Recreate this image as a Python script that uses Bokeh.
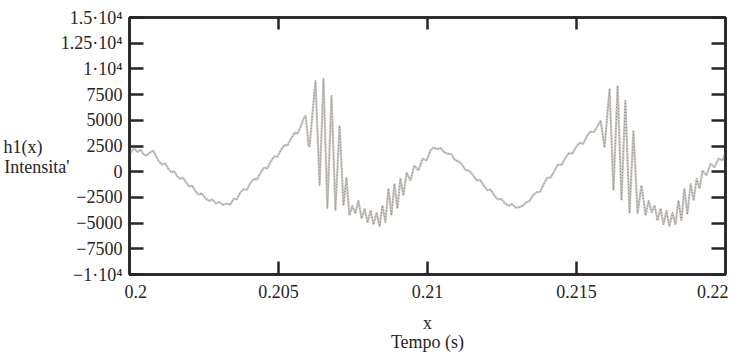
from bokeh.plotting import figure
from bokeh.models import LinearAxis, FixedTicker, Range1d
from bokeh.embed import file_html
from bokeh.resources import INLINE

# ---- data ----
time_s = [
    0.20000, 0.20008, 0.20017, 0.20027, 0.20037, 0.20047, 0.20057, 0.20067, 0.20080, 0.20090,
    0.20100, 0.20110, 0.20120, 0.20130, 0.20140, 0.20150, 0.20160, 0.20170, 0.20180, 0.20190,
    0.20200, 0.20210, 0.20220, 0.20232, 0.20242, 0.20255, 0.20268, 0.20278, 0.20290, 0.20302,
    0.20314, 0.20326, 0.20338, 0.20350, 0.20360, 0.20372, 0.20384, 0.20394, 0.20406, 0.20418,
    0.20428, 0.20440, 0.20452, 0.20462, 0.20474, 0.20486, 0.20496, 0.20508, 0.20520, 0.20530,
    0.20542, 0.20554, 0.20564, 0.20576, 0.20584, 0.20591,
    0.20601, 0.20604, 0.20624, 0.20638, 0.20651, 0.20664, 0.20678, 0.20691, 0.20705, 0.20718,
    0.20728, 0.20738,
    0.20748, 0.20758, 0.20768, 0.20779, 0.20789, 0.20799, 0.20809, 0.20819, 0.20829, 0.20839,
    0.20849, 0.20859, 0.20869, 0.20879, 0.20889, 0.20899, 0.20909, 0.20919, 0.20930, 0.20943,
    0.20956, 0.20970, 0.20983, 0.20997, 0.21010,
    0.21020, 0.21032, 0.21044, 0.21056, 0.21068, 0.21080, 0.21092, 0.21104, 0.21116, 0.21128,
    0.21140, 0.21152, 0.21164, 0.21176, 0.21188, 0.21200, 0.21212, 0.21224, 0.21236, 0.21248,
    0.21260, 0.21272, 0.21284, 0.21296, 0.21308, 0.21320, 0.21330, 0.21342, 0.21354, 0.21366,
    0.21378, 0.21390, 0.21402, 0.21414, 0.21426, 0.21438, 0.21450, 0.21462, 0.21474, 0.21486,
    0.21498, 0.21510, 0.21522, 0.21534, 0.21546, 0.21558, 0.21570, 0.21581,
    0.21594, 0.21611, 0.21624, 0.21638, 0.21651, 0.21664, 0.21678, 0.21691, 0.21705, 0.21718,
    0.21732,
    0.21742, 0.21752, 0.21762, 0.21772, 0.21782, 0.21792, 0.21802, 0.21812, 0.21822, 0.21832,
    0.21842, 0.21852, 0.21862, 0.21872, 0.21883, 0.21893, 0.21903, 0.21913, 0.21923, 0.21936,
    0.21950, 0.21963, 0.21977, 0.21990, 0.22000,
]
intensity = [
    1600, 2050, 2250, 1900, 2150, 1700, 1550, 1850, 2050, 1450,
    950, 700, 800, 300, -50, 50, -450, -700, -600, -1050,
    -1450, -1350, -1850, -2250, -2100, -2600, -2850, -2700, -3100, -2950,
    -3250, -3100, -3200, -2600, -2700, -2000, -1700, -1750, -1100, -700,
    -750, -100, 400, 300, 1000, 1500, 1450, 2100, 2600, 2550,
    3200, 3800, 3700, 4500, 5150, 5470,
    2550, 2400, 8870, -1340, 9070, -3580, 7410, -3780, 4490, -3290,
    -560, -4260,
    -3290, -4070, -2800, -4550, -3580, -4940, -3780, -5140, -3970, -5330,
    -3290, -4940, -1630, -4260, -1150, -3580, -660, -2320, -80, -860,
    600, 120, 1280, 1090, 2060,
    2350, 2200, 2300, 1900, 1750, 1700, 1150, 1000, 700, 150,
    100, -300, -850, -800, -1300, -1800, -1750, -2300, -2700, -2650,
    -3100, -3300, -3150, -3500, -3450, -3300, -3000, -2850, -2300, -2000,
    -1950, -1200, -600, -550, 100, 700, 650, 1300, 1800, 1750,
    2400, 2800, 2700, 3400, 3900, 3850, 4400, 4980,
    2350, 8090, -1830, 8380, -2800, 6930, -4070, 4010, -4070, -1340,
    -4260,
    -2800, -3970, -3290, -4750, -3580, -5140, -3780, -5330, -3970, -5140,
    -2800, -4750, -1630, -4160, -1150, -2800, -660, -1630, 120, -370,
    800, 410, 1280, 1090, 1870,
]

y_ticks = [-10000, -7500, -5000, -2500, 0, 2500, 5000, 7500, 10000, 12500, 15000]
y_tick_labels = ["\u22121\u00b710\u2074", "\u22127500", "\u22125000", "\u22122500", "0",
                 "2500", "5000", "7500", "1\u00b710\u2074", "1.25\u00b710\u2074", "1.5\u00b710\u2074"]
x_ticks = [0.205, 0.21, 0.215]
x_tick_values = [0.2, 0.205, 0.21, 0.215, 0.22]
x_tick_labels = ["0.2", "0.205", "0.21", "0.215", "0.22"]
x_title = ["x", "Tempo (s)"]
y_title = ["h1(x)", "Intensita'"]
y_title_at = [2450, 410]
x_range = (0.2, 0.22)
y_range = (-10000, 15000)

SERIF = "Liberation Serif"
INK = "#262626"
NB = "\u00a0"

p = figure(width=739, height=359, output_backend="svg", toolbar_location=None,
           x_range=Range1d(*x_range), y_range=Range1d(*y_range),
           min_border_left=127, min_border_right=14, min_border_top=17, min_border_bottom=85,
           background_fill_color="white", border_fill_color="white")
p.grid.visible = False
p.outline_line_color = INK
p.outline_line_width = 2.5

def style_ticks(ax, tick_in):
    ax.major_tick_in = tick_in
    ax.major_tick_out = 0
    ax.minor_tick_in = 0
    ax.minor_tick_out = 0
    ax.major_tick_line_width = 2.5
    ax.major_tick_line_color = INK
    ax.axis_line_width = 2.5
    ax.axis_line_color = INK
    ax.major_label_text_font = SERIF
    ax.major_label_text_font_size = "18px"
    ax.major_label_text_color = INK

def text_only(ax):
    ax.major_tick_line_color = None
    ax.minor_tick_line_color = None
    ax.axis_line_color = None
    ax.major_tick_in = 0
    ax.major_tick_out = 0
    ax.minor_tick_in = 0
    ax.minor_tick_out = 0
    ax.major_label_text_font = SERIF
    ax.major_label_text_font_size = "18px"
    ax.major_label_text_color = INK

# left axis with tick labels
ya = p.yaxis[0]
ya.ticker = FixedTicker(ticks=y_ticks)
ya.major_label_overrides = {k: v for k, v in zip(y_ticks, y_tick_labels)}
style_ticks(ya, 14)
ya.major_label_standoff = 7

# outer left axis carrying the y title (two lines)
yt = LinearAxis(ticker=FixedTicker(ticks=y_title_at))
text_only(yt)
yt.major_label_overrides = {y_title_at[0]: y_title[0] + NB * 6, y_title_at[1]: y_title[1]}
yt.major_label_standoff = -12
p.add_layout(yt, "left")

# bottom axis: tick marks as minor ticks, labels anchored so the edge
# labels sit inside the frame like the original (first left-, last right-aligned)
span = x_range[1] - x_range[0]
label_pos = list(x_tick_values)
label_pos[0] = round(x_tick_values[0] + span * 0.0105, 5)
label_pos[-1] = round(x_tick_values[-1] - span * 0.0215, 5)
xa = p.xaxis[0]
xa.ticker = FixedTicker(ticks=label_pos, minor_ticks=x_ticks)
xa.major_label_overrides = {k: v for k, v in zip(label_pos, x_tick_labels)}
xa.major_tick_in = 0
xa.major_tick_out = 0
xa.major_tick_line_color = None
xa.minor_tick_in = 13
xa.minor_tick_out = 0
xa.minor_tick_line_width = 2.5
xa.minor_tick_line_color = INK
xa.axis_line_width = 2.5
xa.axis_line_color = INK
xa.major_label_text_font = SERIF
xa.major_label_text_font_size = "18px"
xa.major_label_text_color = INK
xa.major_label_standoff = 10

# two more text-only bottom axes for the x title lines
xt1 = LinearAxis(ticker=FixedTicker(ticks=[0.21]))
text_only(xt1)
xt1.major_label_overrides = {0.21: x_title[0]}
xt1.major_label_standoff = 12
p.add_layout(xt1, "below")
xt2 = LinearAxis(ticker=FixedTicker(ticks=[0.21]))
text_only(xt2)
xt2.major_label_overrides = {0.21: x_title[1]}
xt2.major_label_standoff = -4
p.add_layout(xt2, "below")

# right and top axes: ticks only
blank_x = {t: "" for t in x_ticks}
blank_y = {t: "" for t in y_ticks}
ra = LinearAxis(ticker=FixedTicker(ticks=y_ticks), major_label_overrides=blank_y)
style_ticks(ra, 14)
ra.major_label_standoff = 0
p.add_layout(ra, "right")
ta = LinearAxis(ticker=FixedTicker(ticks=x_ticks), major_label_overrides=blank_x)
style_ticks(ta, 12)
ta.major_label_standoff = 0
p.add_layout(ta, "above")

# the trace: light grey line with a darker dotted texture
p.line(time_s, intensity, line_color="#cdc9c4", line_width=2.2)
p.line(time_s, intensity, line_color="#878787", line_width=1.0, line_dash="1 2")

open("out.html", "w").write(file_html(p, INLINE))
